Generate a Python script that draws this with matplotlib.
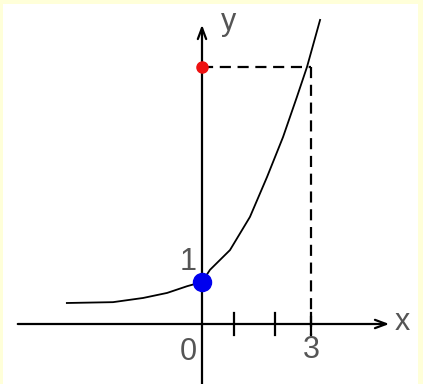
import numpy as np
import matplotlib.pyplot as plt

# curve points (hand drawn exponential)
curve_x = [-3.72, -2.45, -1.62, -0.96, -0.41, 0.0, 0.22, 0.77, 1.32, 1.79, 2.23, 2.61, 2.89, 3.25]
curve_y = [0.50, 0.52, 0.62, 0.74, 0.90, 1.0, 1.29, 1.76, 2.55, 3.50, 4.45, 5.40, 6.12, 7.24]

blue_pt = (0, 1)
red_pt = (0, 6.12)
x3 = 3.0
tick_pos = [0.88, 2.01, 3.0]

BORDER = '#ffffd9'

fig = plt.figure(figsize=(4.23, 3.84), dpi=100, facecolor=BORDER)
ax = fig.add_axes([3/423, 0, 415/423, 380/384])
ax.set_facecolor('white')
ax.set_xlim((3 - 202) / 36.33, (418 - 202) / 36.33)
ax.set_ylim((324 - 384) / 42, (324 - 4) / 42)
for s in ax.spines.values():
    s.set_visible(False)
ax.set_xticks([])
ax.set_yticks([])

# axes with arrows
x_left, x_right = (15 - 202) / 36.33, (392 - 202) / 36.33
y_bot, y_top = (324 - 390) / 42, (324 - 22) / 42
ax.annotate('', xy=(x_right, 0), xytext=(x_left, 0),
            arrowprops=dict(arrowstyle='->,head_length=0.8,head_width=0.3', lw=1.6, color='black'))
ax.annotate('', xy=(0, y_top), xytext=(0, y_bot),
            arrowprops=dict(arrowstyle='->,head_length=0.8,head_width=0.3', lw=1.6, color='black'))

# ticks
for t in tick_pos:
    ax.plot([t, t], [-0.26, 0.26], color='black', lw=1.6)

# dashed guide lines
ax.plot([red_pt[0], x3], [red_pt[1], red_pt[1]], color='black', lw=1.6, ls=(0, (5, 3)))
ax.plot([x3, x3], [red_pt[1], -0.26], color='black', lw=1.6, ls=(0, (5, 3)))

# curve
ax.plot(curve_x, curve_y, color='black', lw=1.3, solid_joinstyle='round')

# points
ax.plot(*red_pt, 'o', color='#ee1111', markersize=8, zorder=5)
ax.plot(*blue_pt, 'o', color='#0000ee', markersize=13, zorder=5)

# labels
font = dict(family='Liberation Sans', color='#555555', fontsize=22, ha='center', va='center')
ax.text(-0.38, -0.67, '0', **font)
ax.text(3.0, -0.62, '3', **font)
ax.text(-0.38, 1.48, '1', **font)
ax.text(5.5, 0.05, 'x', **font)
ax.text(0.72, 7.2, 'y', **font)

fig.savefig('out.png', dpi=100, facecolor=BORDER)
